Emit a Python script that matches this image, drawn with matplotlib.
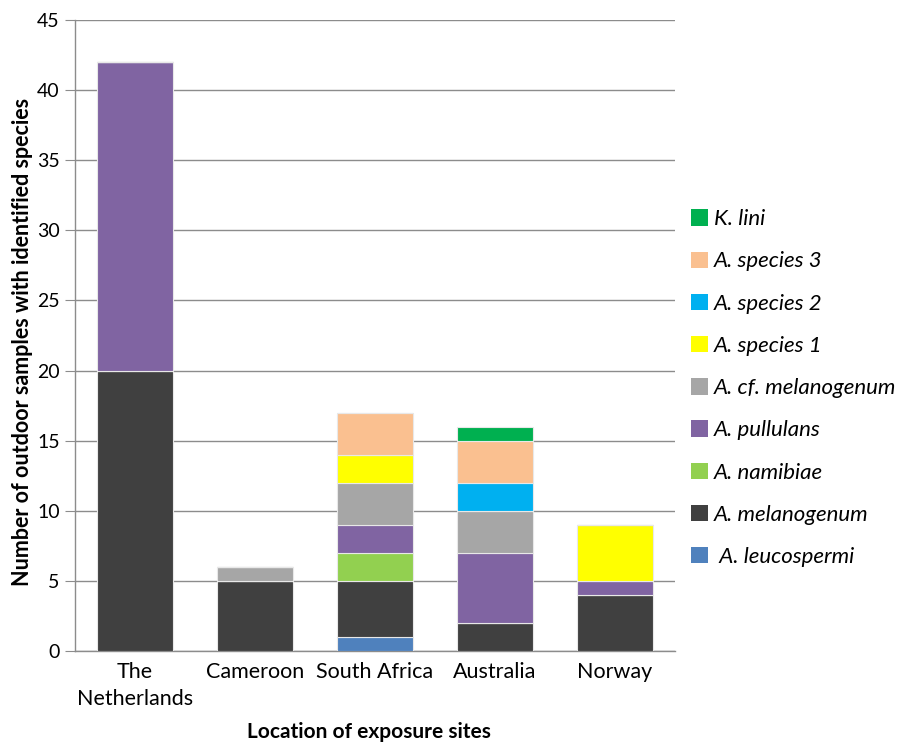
import numpy as np
import matplotlib
matplotlib.use("Agg")
import matplotlib.pyplot as plt
from matplotlib.patches import Patch

plt.rcParams['font.family'] = ['Lato', 'DejaVu Sans']

sites = ["The\nNetherlands", "Cameroon", "South Africa", "Australia", "Norway"]

# stacked from bottom to top
species = ["A. leucospermi", "A. melanogenum", "A. namibiae", "A. pullulans",
           "A. cf. melanogenum", "A. species 1", "A. species 2", "A. species 3", "K. lini"]
leucospermi = [0, 0, 1, 0, 0]
melanogenum = [20, 5, 4, 2, 4]
namibiae = [0, 0, 2, 0, 0]
pullulans = [22, 0, 2, 5, 1]
cf_melanogenum = [0, 1, 3, 3, 0]
species_1 = [0, 0, 2, 0, 4]
species_2 = [0, 0, 0, 2, 0]
species_3 = [0, 0, 3, 3, 0]
k_lini = [0, 0, 0, 1, 0]

colors = ["#4F81BD", "#404040", "#92D050", "#8064A2", "#A6A6A6",
          "#FFFF00", "#00B0F0", "#FAC090", "#00B050"]

series = [leucospermi, melanogenum, namibiae, pullulans, cf_melanogenum,
          species_1, species_2, species_3, k_lini]

fig = plt.figure(figsize=(9.16, 7.42), dpi=100)
ax = fig.add_axes([0.0819, 0.1226, 0.6551, 0.8504])

x = np.arange(len(sites))
bottom = np.zeros(len(sites))
for vals, col in zip(series, colors):
    vals = np.array(vals, dtype=float)
    ax.bar(x, vals, 0.63, bottom=bottom, color=col, edgecolor="#E8E8E8",
           linewidth=0.8, zorder=3)
    bottom += vals

ax.set_xlim(-0.5, 4.5)
ax.set_ylim(0, 45)
ax.set_yticks(range(0, 46, 5))
ax.set_xticks(x)
ax.set_xticklabels(sites, fontsize=15.5, linespacing=1.45)
ax.tick_params(axis='y', labelsize=14, length=7, color="#8C8C8C", pad=4)
ax.tick_params(axis='x', length=0, pad=8)
ax.grid(axis='y', color="#8C8C8C", linewidth=1.0, zorder=0)
for s in ["top", "right"]:
    ax.spines[s].set_visible(False)
for s in ["left", "bottom"]:
    ax.spines[s].set_color("#8C8C8C")
    ax.spines[s].set_linewidth(1.0)

# axis titles placed in figure coords to match the original layout
fig.text(23 / 916, 1 - 342 / 742,
         "Number of outdoor samples with identified species",
         fontsize=15.5, fontweight="bold", rotation=90, ha="center", va="center")
fig.text(0.403, 1 - 732 / 742, "Location of exposure sites", fontsize=15,
         fontweight="bold", ha="center", va="center")

labels = list(species)
labels[0] = " A. leucospermi"
handles = [Patch(facecolor=c, edgecolor="none") for c in colors]
fig.legend(handles[::-1], labels[::-1], loc="upper left",
           bbox_to_anchor=(0.745, 0.73), frameon=False,
           prop={'style': 'italic', 'size': 16},
           handlelength=0.75, handleheight=0.75, handletextpad=0.25,
           labelspacing=1.0, borderaxespad=0)

fig.savefig("out.png", dpi=100)
